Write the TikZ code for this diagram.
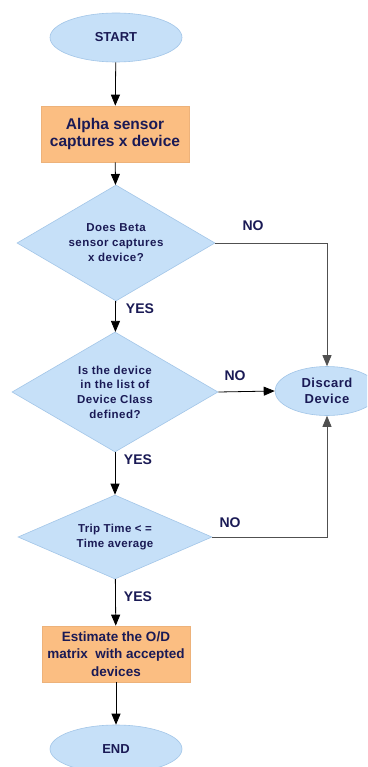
\documentclass[tikz,border=0pt]{standalone}
\usepackage{fontspec}
\setmainfont{Liberation Sans}
\usetikzlibrary{shapes.geometric,arrows.meta}
\definecolor{bfill}{HTML}{C6E0F8}
\definecolor{bdraw}{HTML}{A3C6E8}
\definecolor{ofill}{HTML}{FBBE82}
\definecolor{odraw}{HTML}{EDB27A}
\definecolor{tnavy}{HTML}{1A1A55}
\definecolor{lgray}{HTML}{505050}
\tikzset{
  x=1pt, y=-1pt,
  term/.style={ellipse, fill=bfill, draw=bdraw, line width=0.6pt, inner sep=0pt},
  procbox/.style={rectangle, fill=ofill, draw=odraw, line width=0.6pt, inner sep=0pt},
  dia/.style={diamond, fill=bfill, draw=bdraw, line width=0.6pt, inner sep=0pt, aspect=1.7},
  txt/.style={text=tnavy, font=\bfseries, align=center, inner sep=0pt},
  lab/.style={text=tnavy, font=\fontsize{14}{16}\selectfont\bfseries, inner sep=0pt},
  arr/.style={-{Triangle[length=11pt,width=9pt]}, line width=0.8pt, black},
  garr/.style={-{Triangle[length=11pt,width=9pt]}, line width=0.8pt, lgray},
}
\begin{document}
\begin{tikzpicture}
\useasboundingbox (0,0) rectangle (367,767);
\clip (0,0) rectangle (367,767);
\fill[white] (0,0) rectangle (367,767);

\node[term, minimum width=132pt, minimum height=49pt] (start) at (116,37.5) {};
\node[txt, font=\fontsize{13}{15}\selectfont\bfseries] (starttxt) at (start) {START};

\node[procbox, minimum width=148pt, minimum height=56pt] (alpha) at (115,134) {};
\node[txt, font=\fontsize{15.5}{17.5}\selectfont\bfseries] (alphatxt) at (alpha) {Alpha sensor\\captures x device};

\node[dia, minimum width=198pt, minimum height=116pt] (d1) at (116,243) {};
\node[txt, font=\fontsize{11.5}{15}\selectfont\bfseries\addfontfeatures{LetterSpace=4}] (d1txt) at (d1) {Does Beta\\sensor captures\\x device?};

\node[term, minimum width=104pt, minimum height=49pt] (discard) at (327,391) {};
\node[txt, font=\fontsize{13}{16}\selectfont\bfseries\addfontfeatures{LetterSpace=4}] (disctxt) at (discard) {Discard\\Device};

\node[dia, minimum width=206pt, minimum height=120pt] (d2) at (115,392) {};
\node[txt, font=\fontsize{11.5}{14.7}\selectfont\bfseries\addfontfeatures{LetterSpace=4}] (d2txt) at (d2) {Is the device\\in the list of\\Device Class\\defined?};

\node[dia, minimum width=194pt, minimum height=84pt] (d3) at (115,537) {};
\node[txt, font=\fontsize{11.5}{15}\selectfont\bfseries\addfontfeatures{LetterSpace=3}] (d3txt) at (d3) {Trip Time < =\\Time average};

\node[procbox, minimum width=148pt, minimum height=56pt] (est) at (116,654) {};
\node[txt, font=\fontsize{13.5}{17.5}\selectfont\bfseries] (esttxt) at (est) {Estimate the O/D\\matrix\ \ with accepted\\devices};

\node[term, minimum width=132pt, minimum height=48pt] (end) at (116,749) {};
\node[txt, font=\fontsize{13}{15}\selectfont\bfseries] (endtxt) at (end) {END};

% connectors
\draw[arr] (start) -- (alpha);
\draw[arr] (alpha) -- (d1);
\draw[arr] (d1) -- (d2);
\draw[arr] (d2) -- (d3);
\draw[arr] (d3) -- (est);
\draw[arr] (est) -- (end);
\draw[garr] (d1.east) -| (discard.north);
\draw[arr] (d2.east) -- (discard.west);
\draw[garr] (d3.east) -| (discard.south);

% labels
\node[lab] (no1) at (253,226) {NO};
\node[lab] (yes1) at (140,309) {YES};
\node[lab] (no2) at (235,376) {NO};
\node[lab] (yes2) at (138,460) {YES};
\node[lab] (no3) at (230,523) {NO};
\node[lab] (yes3) at (138,597) {YES};
\end{tikzpicture}
\end{document}
